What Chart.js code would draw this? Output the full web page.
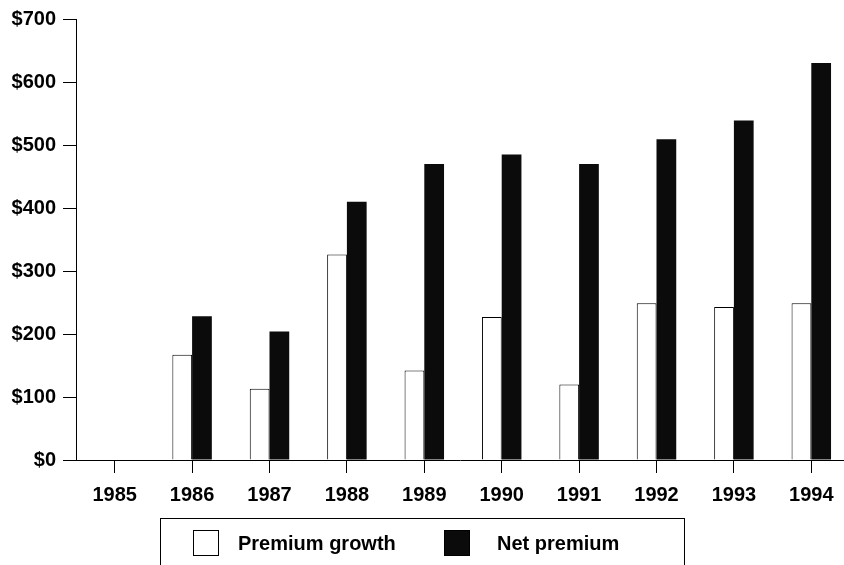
<!DOCTYPE html>
<html>
<head>
<meta charset="utf-8">
<script src="https://cdn.jsdelivr.net/npm/chart.js@4.4.1/dist/chart.umd.min.js"></script>
<style>
  html, body { margin: 0; padding: 0; background: #ffffff; }
  #wrap { width: 844px; height: 565px; }
</style>
</head>
<body>
<div id="wrap"><canvas id="c" width="844" height="565"></canvas></div>
<script>
// ---- data ----
const years = ["1985", "1986", "1987", "1988", "1989", "1990", "1991", "1992", "1993", "1994"];
const premiumGrowth = [0, 167, 113, 326, 142, 227, 120, 249, 243, 249];
const netPremium = [0, 228, 204, 410, 470, 485, 470, 509, 539, 630];
const seriesNames = ["Premium growth", "Net premium"];
const yTickValues = [0, 100, 200, 300, 400, 500, 600, 700];

const FONT_FAMILY = '"Liberation Sans", Arial, Helvetica, sans-serif';

// The reference's category band runs slightly past the right edge of the picture.
const extendX = {
  id: 'extendX',
  afterLayout(chart) {
    const s = chart.scales.x;
    s.right = 850;
    s.width = s.right - s.left;
    s.configure();
  }
};

const boxedLegend = {
  id: 'boxedLegend',
  afterDraw(chart) {
    const ctx = chart.ctx;
    ctx.save();
    ctx.strokeStyle = '#000';
    ctx.lineWidth = 1;
    ctx.strokeRect(160.5, 518.5, 524, 80);
    const items = [
      { x: 193, textX: 238, ds: chart.data.datasets[0] },
      { x: 444, textX: 497, ds: chart.data.datasets[1] }
    ];
    ctx.font = 'bold 20px ' + FONT_FAMILY;
    ctx.textBaseline = 'middle';
    ctx.textAlign = 'left';
    items.forEach(it => {
      ctx.fillStyle = it.ds.backgroundColor;
      ctx.fillRect(it.x, 530, 26, 26);
      ctx.strokeStyle = '#000';
      ctx.lineWidth = 1;
      ctx.strokeRect(it.x + 0.5, 530.5, 25, 25);
      ctx.fillStyle = '#000';
      ctx.fillText(it.ds.label, it.textX, 544);
    });
    ctx.restore();
  }
};

new Chart(document.getElementById('c'), {
  type: 'bar',
  data: {
    labels: years,
    datasets: [
      {
        label: seriesNames[0],
        data: premiumGrowth,
        backgroundColor: '#ffffff',
        borderColor: '#000000',
        borderWidth: 1,
        categoryPercentage: 0.51,
        barPercentage: 1.0
      },
      {
        label: seriesNames[1],
        data: netPremium,
        backgroundColor: '#0b0b0b',
        borderColor: '#0b0b0b',
        borderWidth: 0,
        categoryPercentage: 0.51,
        barPercentage: 1.0
      }
    ]
  },
  options: {
    responsive: false,
    animation: false,
    devicePixelRatio: 1,
    layout: { padding: { top: 17, right: 0, left: 0, bottom: 0 } },
    plugins: {
      legend: { display: false },
      tooltip: { enabled: false },
      title: { display: false }
    },
    scales: {
      x: {
        type: 'category',
        offset: true,
        grid: {
          offset: false,
          drawOnChartArea: false,
          drawTicks: true,
          tickLength: 13,
          color: '#000',
          tickColor: '#000',
          lineWidth: 1
        },
        border: { display: true, color: '#000', width: 1 },
        ticks: {
          color: '#000',
          font: { family: FONT_FAMILY, size: 20, weight: 'bold' },
          padding: 10,
          maxRotation: 0,
          autoSkip: false
        },
        afterFit(scale) { scale.height = 105; }
      },
      y: {
        min: 0,
        max: 700,
        afterBuildTicks(scale) { scale.ticks = yTickValues.map(v => ({ value: v })); },
        grid: {
          drawOnChartArea: false,
          drawTicks: true,
          tickLength: 13,
          color: '#000',
          tickColor: '#000',
          lineWidth: 1
        },
        border: { display: true, color: '#000', width: 1 },
        ticks: {
          color: '#000',
          font: { family: FONT_FAMILY, size: 20, weight: 'bold' },
          padding: 7,
          callback: v => '$' + v
        },
        afterFit(scale) { scale.width = 76; }
      }
    }
  },
  plugins: [extendX, boxedLegend]
});
</script>
</body>
</html>
